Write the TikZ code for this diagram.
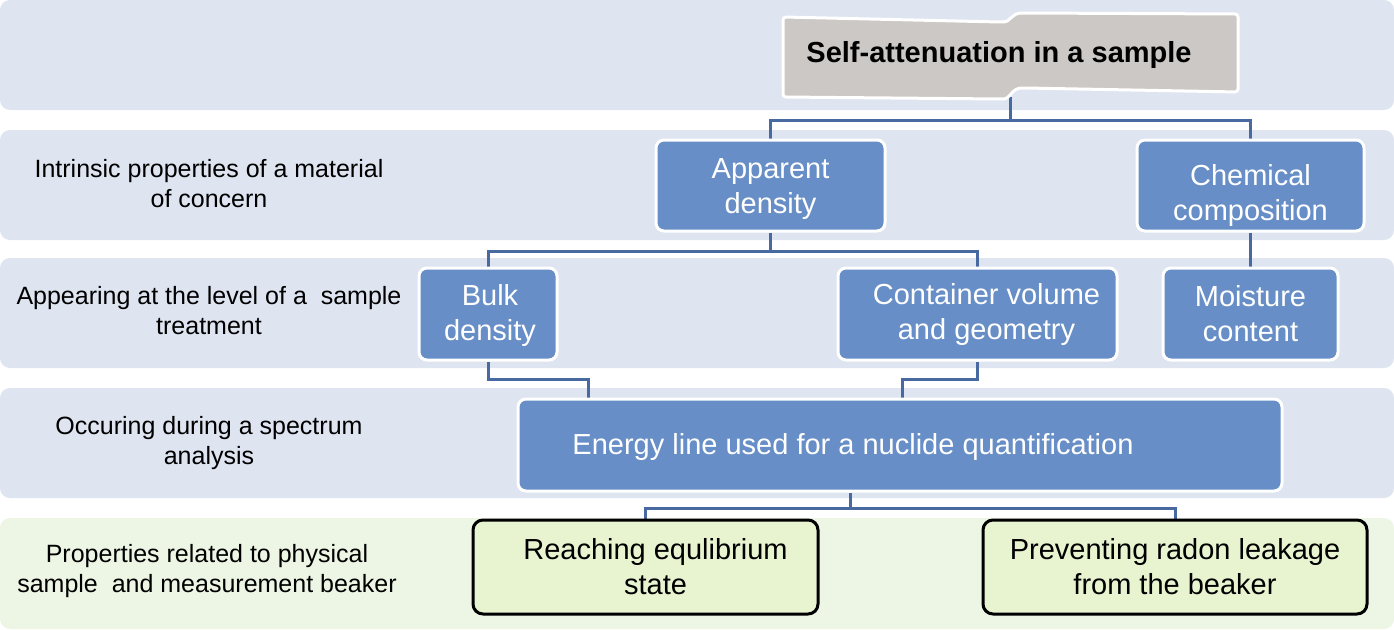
\documentclass[tikz,border=0pt]{standalone}
\usepackage{fontspec}
\setmainfont{Liberation Sans}
\definecolor{band}{RGB}{222,228,240}
\definecolor{gband}{RGB}{237,246,228}
\definecolor{boxblue}{RGB}{103,142,198}
\definecolor{conn}{RGB}{72,106,160}
\definecolor{bannergray}{RGB}{204,200,197}
\definecolor{gbox}{RGB}{232,243,208}
\pgfdeclarelayer{bands}\pgfdeclarelayer{lines}\pgfsetlayers{bands,lines,main}
\begin{document}
\begin{tikzpicture}[x=1pt,y=-1pt,
 bandbox/.style={fill=band, rounded corners=10pt},
 rowlabel/.style={align=center, font=\fontsize{25}{30}\selectfont, text=black, inner sep=0pt},
 bluebox/.style={fill=boxblue, draw=white, line width=3pt, rounded corners=8pt, text=white, align=center, font=\fontsize{29}{35}\selectfont, inner sep=0pt},
 greenbox/.style={fill=gbox, draw=black, line width=3pt, rounded corners=10pt, align=center, font=\fontsize{29}{35}\selectfont, inner sep=0pt},
 link/.style={draw=conn, line width=3pt}]
\useasboundingbox (0,0) rectangle (1394,629);
\begin{pgfonlayer}{bands}
 \fill[bandbox] (0,0) rectangle (1394,110);
 \fill[bandbox] (0,130) rectangle (1394,240);
 \fill[bandbox] (0,258) rectangle (1394,368);
 \fill[bandbox] (0,388) rectangle (1394,498);
 \fill[bandbox, fill=gband] (0,518) rectangle (1394,629);
\end{pgfonlayer}
% row labels
\node[rowlabel] (l2) at (209,184) {Intrinsic properties of a material\\of concern};
\node[rowlabel] (l3) at (209,311) {Appearing at the level of a \ sample\\treatment};
\node[rowlabel] (l4) at (209,443) {Occuring during a spectrum\\analysis};
\node[rowlabel] (l5) at (207,571) {Properties related to physical\\sample \ and measurement beaker};
% banner
\path[fill=bannergray, draw=white, line width=3pt, rounded corners=3pt]
 (783,17) -- (1000,22) .. controls (1011,22) and (1011,13) .. (1025,13) -- (1238,14)
 -- (1238,92) -- (1025,88) .. controls (1011,88) and (1011,99) .. (1000,99) -- (783,97) -- cycle;
\node[font=\bfseries\fontsize{29}{34}\selectfont, inner sep=0pt] (title) at (999,55) {Self-attenuation in a sample};
\coordinate (tb) at (1010,97);
% boxes
\node[bluebox, minimum width=229pt, minimum height=91pt] (ad) at (770.5,185.5) {\rule{0pt}{27pt}Apparent\\density};
\node[bluebox, minimum width=227pt, minimum height=91pt] (cc) at (1250.5,185.5) {\rule{0pt}{41pt}Chemical\\composition};
\node[bluebox, minimum width=138pt, minimum height=92pt] (bd) at (488,314) {\hspace*{4pt}\rule{0pt}{24pt}Bulk\\\hspace*{4pt}density};
\node[bluebox, minimum width=279pt, minimum height=92pt] (cv) at (977.5,314) {\hspace*{18pt}Container volume\\\hspace*{18pt}and geometry};
\node[bluebox, minimum width=175pt, minimum height=92pt] (mc) at (1250.5,314) {Moisture\\content};
\node[bluebox, minimum width=764pt, minimum height=92pt] (en) at (900,445) {\rule{0pt}{26pt}Energy line used for a nuclide quantification\hspace*{94pt}};
\node[greenbox, minimum width=345pt, minimum height=94pt] (re) at (645.5,567) {\hspace*{20pt}Reaching equlibrium\\\hspace*{20pt}state};
\node[greenbox, minimum width=384pt, minimum height=94pt] (pr) at (1175,567) {Preventing radon leakage\\from the beaker};
% connectors
\begin{pgfonlayer}{lines}
 \draw[link] (tb) -- (1010,120) coordinate (j1);
 \draw[link] (j1) -| (ad.north);
 \draw[link] (j1) -| (cc.north);
 \draw[link] (ad.south) -- (ad.south |- 0,251) coordinate (j2);
 \draw[link] (j2) -| (bd.north);
 \draw[link] (j2) -| (cv.north);
 \draw[link] (cc.south) -- (mc.north);
 \draw[link] (bd.south) |- (588,379) -- (en.north -| 588,0);
 \draw[link] (cv.south) |- (902,379) -- (en.north -| 902,0);
 \draw[link] (en.south -| 850,0) -- (850,508) coordinate (j3);
 \draw[link] (j3) -| (re.north);
 \draw[link] (j3) -| (pr.north);
\end{pgfonlayer}
\end{tikzpicture}
\end{document}
